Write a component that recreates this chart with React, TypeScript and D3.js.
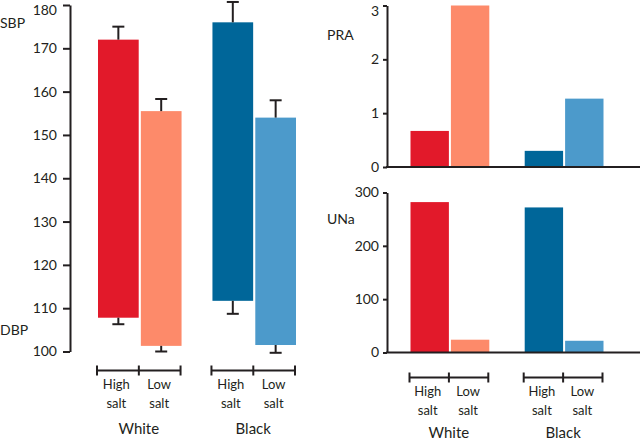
import React, { useRef, useEffect } from "react";
import { select, scaleLinear, scaleBand, axisLeft, format } from "d3";

const groups = ["White", "Black"];
const diets = ["High", "Low"];
const colors = ["#e2192a", "#fd8a6a", "#006699", "#4c9acb"];

// systolic / diastolic means with one-sided error (SE)
const sbp = [172, 155.5, 176, 154];
const sbpErr = [3, 2.8, 4.7, 4];
const dbp = [107.8, 101.3, 111.7, 101.5];
const dbpErr = [1.5, 1.3, 3, 1.8];

const pra = [0.67, 3.0, 0.3, 1.27];
const una = [282, 24, 272, 22];

const bpTicks = [100, 110, 120, 130, 140, 150, 160, 170, 180];
const praTicks = [0, 1, 2, 3];
const unaTicks = [0, 100, 200, 300];

const FONT = "Lato, 'Open Sans', sans-serif";
const INK = "#231f20";

const styleAxis = (ax) => {
  ax.selectAll("path,line").attr("stroke", INK).attr("stroke-width", 2);
  ax.selectAll("text")
    .attr("font-size", 14)
    .attr("font-family", FONT)
    .attr("fill", INK)
    // keep the top label inside the picture
    .attr("dy", function () {
      const t = select(this.parentNode).attr("transform");
      const y = +t.split(",")[1].replace(")", "");
      return y < 8 ? "0.68em" : "0.32em";
    });
};

const App = () => {
  const svgRef = useRef<SVGSVGElement>(null);

  useEffect(() => {
    const svg = select(svgRef.current);
    svg.selectAll("*").remove();

    const rows = groups.flatMap((g, gi) =>
      diets.map((d, di) => ({ g, d, i: gi * 2 + di }))
    );

    // ---- left panel: blood pressure
    const yBp = scaleLinear().domain([100, 180]).range([351.5, 5]);
    const xGroupL = scaleBand().domain(groups).range([98, 296]).paddingInner(0.27);
    const xDietL = scaleBand().domain(diets).range([0, xGroupL.bandwidth()]).paddingInner(0.05);

    const left = svg.append("g");
    const axL = left
      .append("g")
      .attr("transform", "translate(70,0)")
      .call(axisLeft(yBp).tickValues(bpTicks).tickSize(7).tickSizeOuter(0).tickPadding(6));
    styleAxis(axL);

    left
      .selectAll(".bar")
      .data(rows)
      .join("rect")
      .attr("x", (r) => xGroupL(r.g)! + xDietL(r.d)!)
      .attr("width", xDietL.bandwidth())
      .attr("y", (r) => yBp(sbp[r.i]))
      .attr("height", (r) => yBp(dbp[r.i]) - yBp(sbp[r.i]))
      .attr("fill", (r) => colors[r.i]);

    const errs = left
      .selectAll(".err")
      .data(rows)
      .join("g")
      .attr("transform", (r) => `translate(${xGroupL(r.g)! + xDietL(r.d)! + xDietL.bandwidth() / 2},0)`)
      .attr("stroke", INK)
      .attr("stroke-width", 2);
    errs.append("line").attr("y1", (r) => yBp(sbp[r.i])).attr("y2", (r) => yBp(sbp[r.i] + sbpErr[r.i]));
    errs.append("line").attr("x1", -6).attr("x2", 6)
      .attr("y1", (r) => yBp(sbp[r.i] + sbpErr[r.i])).attr("y2", (r) => yBp(sbp[r.i] + sbpErr[r.i]));
    errs.append("line").attr("y1", (r) => yBp(dbp[r.i])).attr("y2", (r) => yBp(dbp[r.i] - dbpErr[r.i]));
    errs.append("line").attr("x1", -6).attr("x2", 6)
      .attr("y1", (r) => yBp(dbp[r.i] - dbpErr[r.i])).attr("y2", (r) => yBp(dbp[r.i] - dbpErr[r.i]));

    left.append("text").attr("x", 0).attr("y", 28).attr("font-size", 14).text("SBP");
    left.append("text").attr("x", 0).attr("y", 335).attr("font-size", 14).text("DBP");

    // bracket legends under each group
    const drawBrackets = (g, xGroup, xDiet, y, nameDy) => {
      groups.forEach((grp) => {
        const x0 = xGroup(grp) - 1;
        const x1 = x0 + xGroup.bandwidth();
        const xm = x0 + xDiet("Low") - 1;
        const b = g.append("g").attr("stroke", INK).attr("stroke-width", 2);
        b.append("line").attr("x1", x0).attr("x2", x1).attr("y1", y).attr("y2", y);
        [x0, xm, x1].forEach((x) =>
          b.append("line").attr("x1", x).attr("x2", x).attr("y1", y - 5).attr("y2", y + 5)
        );
        diets.forEach((d) => {
          const cx = xGroup(grp) + xDiet(d) + xDiet.bandwidth() / 2 - 2;
          g.append("text").attr("x", cx).attr("y", y + 18).attr("text-anchor", "middle").text(d);
          g.append("text").attr("x", cx).attr("y", y + 37).attr("text-anchor", "middle").text("salt");
        });
        g.append("text")
          .attr("x", (x0 + x1) / 2)
          .attr("y", y + nameDy)
          .attr("text-anchor", "middle")
          .attr("font-size", 15)
          .text(grp);
      });
    };
    drawBrackets(left, xGroupL, xDietL, 370.5, 63);

    // ---- right panels
    const xGroupR = scaleBand().domain(groups).range([410.5, 603.5]).paddingInner(0.31);
    const xDietR = scaleBand().domain(diets).range([0, xGroupR.bandwidth()]).paddingInner(0.05);

    const panel = (vals, ticks, range, label, labelY) => {
      const y = scaleLinear().domain([ticks[0], ticks[ticks.length - 1]]).range(range);
      const g = svg.append("g");
      g.selectAll("rect")
        .data(rows)
        .join("rect")
        .attr("x", (r) => xGroupR(r.g)! + xDietR(r.d)!)
        .attr("width", xDietR.bandwidth())
        .attr("y", (r) => y(vals[r.i]))
        .attr("height", (r) => y(0) - y(vals[r.i]))
        .attr("fill", (r) => colors[r.i]);
      const ax = g
        .append("g")
        .attr("transform", "translate(387,0)")
        .call(
          axisLeft(y).tickValues(ticks).tickFormat(format("d")).tickSize(4).tickSizeOuter(0).tickPadding(4)
        );
      styleAxis(ax);
      g.append("line")
        .attr("x1", 386).attr("x2", 640)
        .attr("y1", y(0)).attr("y2", y(0))
        .attr("stroke", INK).attr("stroke-width", 2);
      g.append("text").attr("x", 327).attr("y", labelY).attr("font-size", 14).text(label);
      return g;
    };
    panel(pra, praTicks, [167, 5.5], "PRA", 40);
    const bottom = panel(una, unaTicks, [352.5, 192.5], "UNa", 224);
    drawBrackets(bottom, xGroupR, xDietR, 377.5, 60);

    svg.selectAll("text")
      .attr("font-family", FONT)
      .attr("fill", INK)
      .filter(function () {
        return !select(this).attr("font-size");
      })
      .attr("font-size", 13);
  }, []);

  return (
    <div style={{ position: "absolute", left: 0, top: 0 }}>
      <svg ref={svgRef} width={640} height={441} style={{ display: "block" }}></svg>
    </div>
  );
};

export default App;
